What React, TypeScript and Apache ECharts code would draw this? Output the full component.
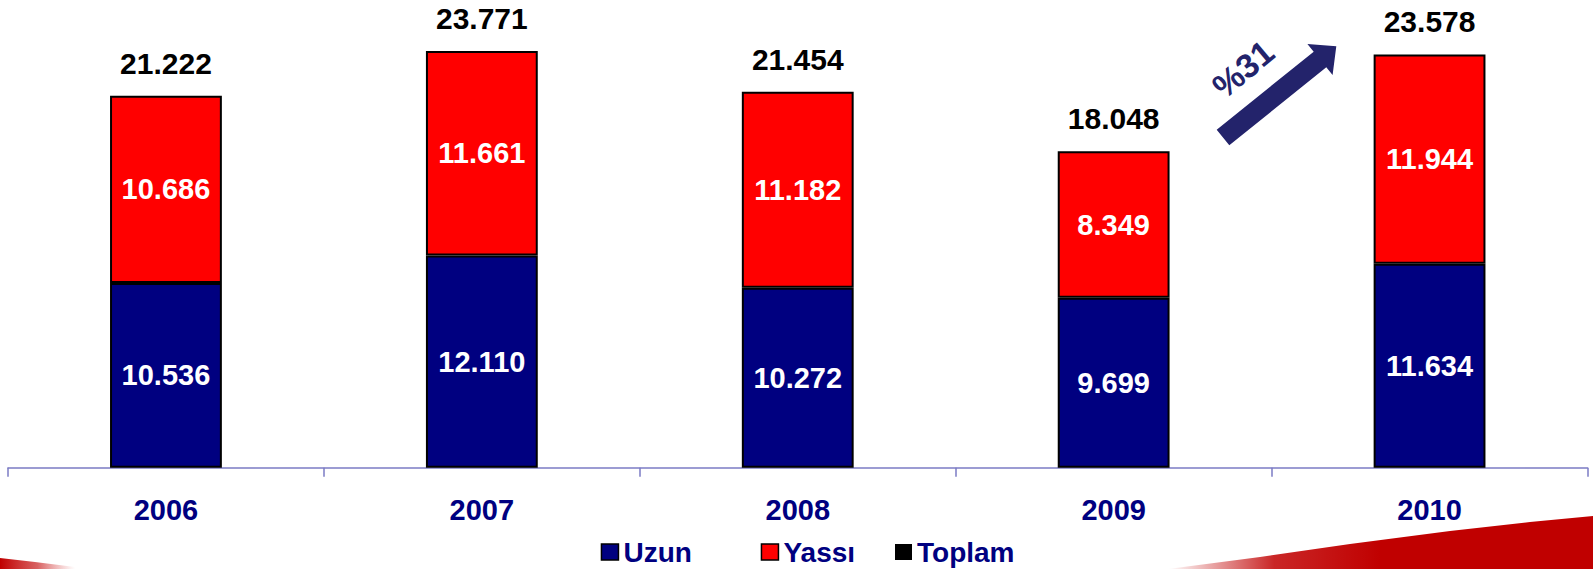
import React, { useEffect, useRef } from "react";
import * as echarts from "echarts";

const years = ["2006", "2007", "2008", "2009", "2010"];
const uzun = [10536, 12110, 10272, 9699, 11634];
const yassi = [10686, 11661, 11182, 8349, 11944];
const toplam = [21222, 23771, 21454, 18048, 23578];
const growthLabel = "%31";

const FONT = "'Liberation Sans', Arial, sans-serif";
const NAVY = "#000080";
const fmt = (v: number) => String(v).replace(/\B(?=(\d{3})+(?!\d))/g, ".");

export default function App() {
  const ref = useRef<HTMLDivElement>(null);
  useEffect(() => {
    if (!ref.current) return;
    const chart = echarts.init(ref.current, null, { renderer: "svg" });
    const legendBase = {
      orient: "horizontal",
      top: 538,
      padding: 0,
      itemWidth: 17,
      itemHeight: 16,
      icon: "rect",
      selectedMode: false,
      textStyle: { color: NAVY, fontSize: 28, fontWeight: "bold", fontFamily: FONT, lineHeight: 28 },
    };
    const innerLabel = {
      show: true,
      position: "inside",
      color: "#fff",
      fontSize: 29,
      fontWeight: "bold",
      fontFamily: FONT,
      formatter: (p: any) => fmt(p.value),
    };
    chart.setOption({
      animation: false,
      backgroundColor: "#ffffff",
      grid: { left: 8, right: 5.5, top: 12, bottom: 101.3 },
      xAxis: {
        type: "category",
        data: years,
        boundaryGap: true,
        axisLine: { lineStyle: { color: "#7b7bc4", width: 1.5 } },
        axisTick: { show: true, length: 9, lineStyle: { color: "#7b7bc4", width: 1.5 } },
        axisLabel: { color: NAVY, fontSize: 29, fontWeight: "bold", fontFamily: FONT, margin: 28 },
      },
      yAxis: { type: "value", min: 0, max: 26000, show: false, splitLine: { show: false } },
      legend: [
        { ...legendBase, left: 600.7, data: [{ name: "Uzun", itemStyle: { color: NAVY, borderColor: "#000", borderWidth: 1.5 } }] },
        { ...legendBase, left: 760.7, data: [{ name: "Yassı", itemStyle: { color: "#ff0000", borderColor: "#000", borderWidth: 1.5 } }] },
        { ...legendBase, left: 895, data: [{ name: "Toplam", itemStyle: { color: "#000", borderWidth: 0, opacity: 1 } }] },
      ],
      series: [
        {
          name: "Uzun",
          type: "bar",
          stack: "t",
          barWidth: "35.4%",
          data: uzun,
          itemStyle: { color: NAVY, borderColor: "#000", borderWidth: 2 },
          label: innerLabel,
        },
        {
          name: "Yassı",
          type: "bar",
          stack: "t",
          barWidth: "35.4%",
          data: yassi,
          itemStyle: { color: "#ff0000", borderColor: "#000", borderWidth: 2 },
          label: innerLabel,
        },
        {
          name: "Toplam",
          type: "line",
          data: toplam,
          symbol: "circle",
          symbolSize: 1,
          itemStyle: { color: "rgba(0,0,0,0)" },
          lineStyle: { width: 0, color: "rgba(0,0,0,0)" },
          z: 5,
          label: {
            show: true,
            position: "top",
            distance: 17,
            color: "#000",
            fontSize: 30,
            fontWeight: "bold",
            fontFamily: FONT,
            formatter: (p: any) => fmt(p.value),
          },
        },
      ],
      graphic: [
        {
          type: "polygon",
          z: 10,
          shape: {
            points: [
              [1229.3, 145.3],
              [1326.3, 67.3],
              [1332.6, 75.0],
              [1336.3, 46.3],
              [1307.4, 44.0],
              [1313.7, 51.7],
              [1216.7, 129.7],
            ],
          },
          style: { fill: "#23236b" },
        },
        {
          type: "text",
          z: 10,
          x: 1243,
          y: 69,
          rotation: 0.7,
          style: {
            text: growthLabel,
            fill: "#23236b",
            font: `bold 34px ${FONT}`,
            align: "center",
            verticalAlign: "middle",
          },
        },
        {
          type: "polygon",
          z: 1,
          shape: {
            points: [
              [1168, 569],
              [1260, 557],
              [1350, 544],
              [1450, 531],
              [1530, 522],
              [1593, 516],
              [1593, 569],
            ],
          },
          style: {
            fill: new echarts.graphic.LinearGradient(0, 0, 1, 0, [
              { offset: 0, color: "rgba(192,0,0,0)" },
              { offset: 0.25, color: "rgba(192,0,0,0.85)" },
              { offset: 0.5, color: "#c00000" },
              { offset: 1, color: "#c00000" },
            ]),
          },
        },
        {
          type: "polygon",
          z: 1,
          shape: {
            points: [
              [0, 558],
              [35, 562],
              [75, 567],
              [75, 569],
              [0, 569],
            ],
          },
          style: {
            fill: new echarts.graphic.LinearGradient(0, 0, 1, 0, [
              { offset: 0, color: "#c00000" },
              { offset: 0.5, color: "rgba(200,30,30,0.7)" },
              { offset: 1, color: "rgba(220,80,80,0)" },
            ]),
          },
        },
      ],
    });
    return () => chart.dispose();
  }, []);
  return (
    <div
      ref={ref}
      style={{ position: "fixed", left: 0, top: 0, width: 1593, height: 569 }}
    />
  );
}
